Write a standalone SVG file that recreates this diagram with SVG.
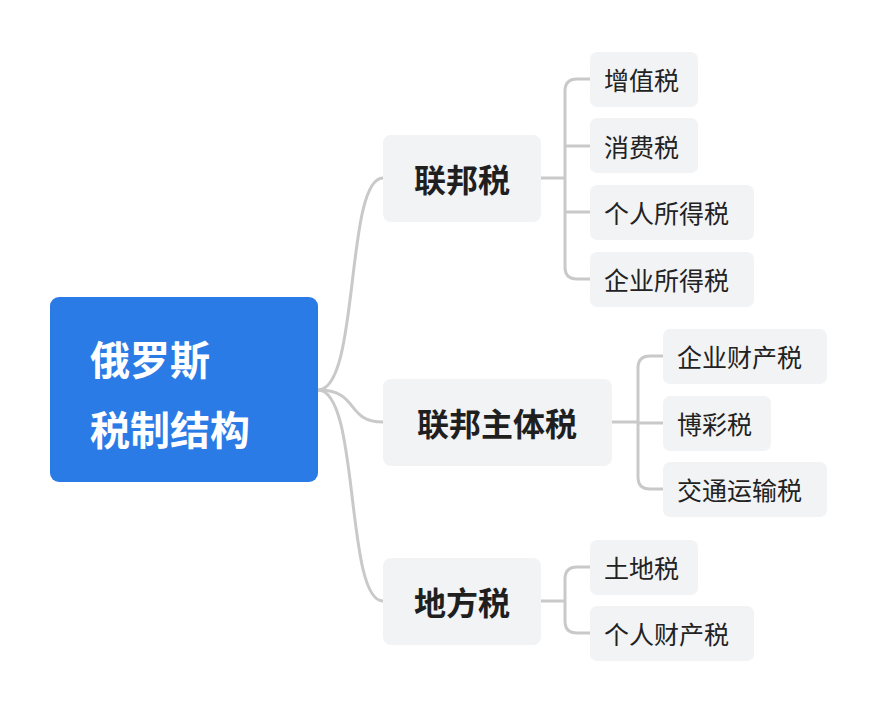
<svg xmlns="http://www.w3.org/2000/svg" width="878" height="714" viewBox="0 0 878 714">
<style>
.l1{fill:#f2f3f5}
.lf{fill:#f2f3f5}
.t1{font-family:"Noto Sans CJK SC",sans-serif;font-weight:bold;font-size:32px;fill:#1f1f1f;text-anchor:middle;dominant-baseline:central}
.t2{font-family:"Noto Sans CJK SC",sans-serif;font-size:25px;fill:#222;dominant-baseline:central}
.c{fill:none;stroke:#c9c9c9;stroke-width:3}
</style>
<rect width="878" height="714" fill="#fff"/>
<g id="connectors">
<path class="c" d="M318,390 C360,390 345,178 383,178"/>
<path class="c" d="M318,390 C360,390 345,422 383,422"/>
<path class="c" d="M318,390 C360,390 345,601 383,601"/>
<path class="c" d="M541,178 H565"/>
<path class="c" d="M590,79 H577 Q565,79 565,91 V267 Q565,279 577,279 H590 M565,146 Q565,146 590,146 M565,212 H590"/>
<path class="c" d="M612,422 H638"/>
<path class="c" d="M663,356 H650 Q638,356 638,368 V477 Q638,489 650,489 H663 M638,423 H663"/>
<path class="c" d="M541,601 H565"/>
<path class="c" d="M590,567 H577 Q565,567 565,579 V621 Q565,633 577,633 H590"/>
</g>
<g id="root">
<rect x="50" y="297" width="268" height="185" rx="9" fill="#2b7be6"/>
<text x="90" y="358" font-family="Noto Sans CJK SC,sans-serif" font-weight="bold" font-size="40" fill="#fff" dominant-baseline="central">俄罗斯</text>
<text x="90" y="428" font-family="Noto Sans CJK SC,sans-serif" font-weight="bold" font-size="40" fill="#fff" dominant-baseline="central">税制结构</text>
</g>
<g id="n-federal"><rect class="l1" x="383" y="135" width="158" height="87" rx="8"/><text class="t1" x="462" y="178">联邦税</text></g>
<g id="n-subject"><rect class="l1" x="383" y="379" width="229" height="87" rx="8"/><text class="t1" x="497" y="422">联邦主体税</text></g>
<g id="n-local"><rect class="l1" x="383" y="558" width="158" height="87" rx="8"/><text class="t1" x="462" y="601">地方税</text></g>
<g id="leaf1"><rect class="lf" x="590" y="52" width="108" height="55" rx="7"/><text class="t2" x="604" y="79">增值税</text></g>
<g id="leaf2"><rect class="lf" x="590" y="118" width="108" height="55" rx="7"/><text class="t2" x="604" y="146">消费税</text></g>
<g id="leaf3"><rect class="lf" x="590" y="185" width="164" height="55" rx="7"/><text class="t2" x="604" y="212">个人所得税</text></g>
<g id="leaf4"><rect class="lf" x="590" y="252" width="164" height="55" rx="7"/><text class="t2" x="604" y="279">企业所得税</text></g>
<g id="leaf5"><rect class="lf" x="663" y="329" width="164" height="55" rx="7"/><text class="t2" x="677" y="356">企业财产税</text></g>
<g id="leaf6"><rect class="lf" x="663" y="396" width="108" height="55" rx="7"/><text class="t2" x="677" y="423">博彩税</text></g>
<g id="leaf7"><rect class="lf" x="663" y="462" width="164" height="55" rx="7"/><text class="t2" x="677" y="489">交通运输税</text></g>
<g id="leaf8"><rect class="lf" x="590" y="540" width="108" height="55" rx="7"/><text class="t2" x="604" y="567">土地税</text></g>
<g id="leaf9"><rect class="lf" x="590" y="606" width="164" height="55" rx="7"/><text class="t2" x="604" y="633">个人财产税</text></g>
</svg>
